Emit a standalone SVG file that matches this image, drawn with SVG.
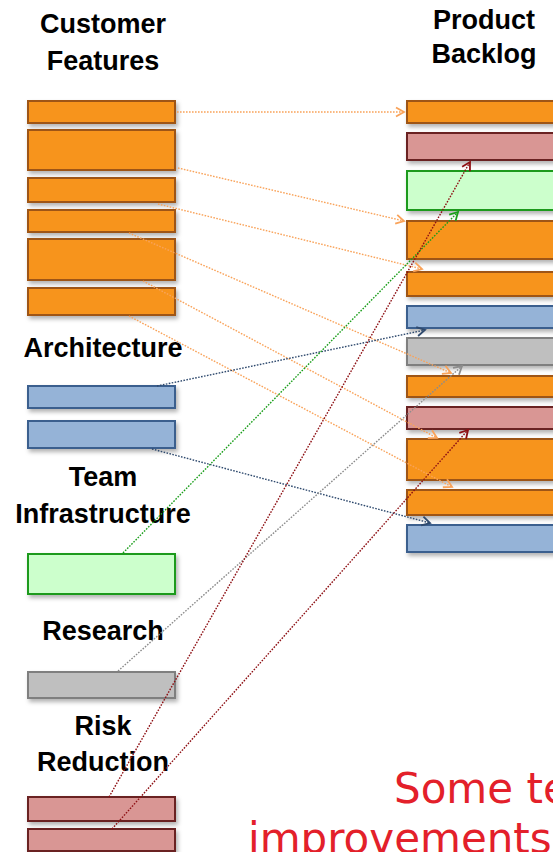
<svg xmlns="http://www.w3.org/2000/svg" width="553" height="852" viewBox="0 0 553 852">
<style>
.lbl{font-family:"Liberation Sans",Arial,sans-serif;font-weight:bold;font-size:27px;fill:#000;text-anchor:middle}
.note{font-family:"DejaVu Sans",Verdana,sans-serif;font-size:42px;fill:#E3202A}
.box{stroke-width:2;filter:url(#sh)}
.or{fill:#F7941E;stroke:#9E5512}
.pk{fill:#D99694;stroke:#6B2222}
.gr{fill:#CCFFCC;stroke:#1E9A1E}
.bl{fill:#95B3D7;stroke:#3B5E8E}
.gy{fill:#BFBFBF;stroke:#7F7F7F}
.c{fill:none;stroke-width:1.4;stroke-dasharray:1.6 1.4}
.co{stroke:#F9A35A;marker-end:url(#mo)}
.cb{stroke:#2F4A6E;marker-end:url(#mb)}
.cg{stroke:#1A9E1A;marker-end:url(#mg)}
.cy{stroke:#8C8C8C;marker-end:url(#my)}
.cr{stroke:#8E1014;marker-end:url(#mr)}
</style>
<defs>
<filter id="sh" x="-10%" y="-30%" width="125%" height="180%">
<feDropShadow dx="2" dy="3" stdDeviation="2" flood-color="#000" flood-opacity="0.3"/>
</filter>
<marker id="mo" markerUnits="userSpaceOnUse" markerWidth="12" markerHeight="12" refX="0" refY="0" orient="auto" overflow="visible"><path d="M-8,-4.5 L0,0 L-8,4.5" fill="none" stroke="#F9A35A" stroke-width="1.8"/></marker>
<marker id="mb" markerUnits="userSpaceOnUse" markerWidth="12" markerHeight="12" refX="0" refY="0" orient="auto" overflow="visible"><path d="M-8,-4.5 L0,0 L-8,4.5" fill="none" stroke="#2F4A6E" stroke-width="1.8"/></marker>
<marker id="mg" markerUnits="userSpaceOnUse" markerWidth="12" markerHeight="12" refX="0" refY="0" orient="auto" overflow="visible"><path d="M-8,-4.5 L0,0 L-8,4.5" fill="none" stroke="#1A9E1A" stroke-width="1.8"/></marker>
<marker id="my" markerUnits="userSpaceOnUse" markerWidth="12" markerHeight="12" refX="0" refY="0" orient="auto" overflow="visible"><path d="M-8,-4.5 L0,0 L-8,4.5" fill="none" stroke="#8C8C8C" stroke-width="1.8"/></marker>
<marker id="mr" markerUnits="userSpaceOnUse" markerWidth="12" markerHeight="12" refX="0" refY="0" orient="auto" overflow="visible"><path d="M-8,-4.5 L0,0 L-8,4.5" fill="none" stroke="#8E1014" stroke-width="1.8"/></marker>
</defs>
<rect width="553" height="852" fill="#fff"/>

<g id="headers">
<text class="lbl" x="103" y="33">Customer</text>
<text class="lbl" x="103" y="70">Features</text>
<text class="lbl" x="484" y="29">Product</text>
<text class="lbl" x="484" y="63">Backlog</text>
<text class="lbl" x="103" y="357">Architecture</text>
<text class="lbl" x="103" y="486">Team</text>
<text class="lbl" x="103" y="523">Infrastructure</text>
<text class="lbl" x="103" y="640">Research</text>
<text class="lbl" x="103" y="735">Risk</text>
<text class="lbl" x="103" y="771">Reduction</text>
</g>

<g id="cf1"><rect class="box or" x="28" y="101" width="147" height="22"/></g>
<g id="cf2"><rect class="box or" x="28" y="130" width="147" height="40"/></g>
<g id="cf3"><rect class="box or" x="28" y="178" width="147" height="24"/></g>
<g id="cf4"><rect class="box or" x="28" y="210" width="147" height="22"/></g>
<g id="cf5"><rect class="box or" x="28" y="239" width="147" height="41"/></g>
<g id="cf6"><rect class="box or" x="28" y="288" width="147" height="27"/></g>
<g id="arch1"><rect class="box bl" x="28" y="386" width="147" height="22"/></g>
<g id="arch2"><rect class="box bl" x="28" y="421" width="147" height="27"/></g>
<g id="team1"><rect class="box gr" x="28" y="554" width="147" height="40"/></g>
<g id="res1"><rect class="box gy" x="28" y="672" width="147" height="26"/></g>
<g id="risk1"><rect class="box pk" x="28" y="797" width="147" height="24"/></g>
<g id="risk2"><rect class="box pk" x="28" y="829" width="147" height="22"/></g>

<g id="pb1"><rect class="box or" x="407" y="101" width="150" height="22"/></g>
<g id="pb2"><rect class="box pk" x="407" y="133" width="150" height="27"/></g>
<g id="pb3"><rect class="box gr" x="407" y="171" width="150" height="39"/></g>
<g id="pb4"><rect class="box or" x="407" y="221" width="150" height="38"/></g>
<g id="pb5"><rect class="box or" x="407" y="272" width="150" height="24"/></g>
<g id="pb6"><rect class="box bl" x="407" y="306" width="150" height="22"/></g>
<g id="pb7"><rect class="box gy" x="407" y="338" width="150" height="27"/></g>
<g id="pb8"><rect class="box or" x="407" y="376" width="150" height="21"/></g>
<g id="pb9"><rect class="box pk" x="407" y="407" width="150" height="22"/></g>
<g id="pb10"><rect class="box or" x="407" y="439" width="150" height="41"/></g>
<g id="pb11"><rect class="box or" x="407" y="490" width="150" height="25"/></g>
<g id="pb12"><rect class="box bl" x="407" y="525" width="150" height="27"/></g>

<g id="connectors">
<line class="c co" x1="177" y1="112" x2="404" y2="112"/>
<line class="c co" x1="178" y1="168" x2="404" y2="221"/>
<line class="c co" x1="158" y1="204" x2="422" y2="269"/>
<line class="c co" x1="129" y1="233" x2="451" y2="373"/>
<line class="c co" x1="143" y1="281" x2="437" y2="438"/>
<line class="c co" x1="129" y1="316" x2="452" y2="487"/>
<line class="c cb" x1="157" y1="386" x2="425" y2="330"/>
<line class="c cb" x1="152" y1="449" x2="430" y2="523"/>
<line class="c cg" x1="123" y1="553" x2="458" y2="212"/>
<line class="c cy" x1="118" y1="671" x2="462" y2="366"/>
<line class="c cr" x1="109" y1="797" x2="470" y2="162"/>
<line class="c cr" x1="112" y1="829" x2="468" y2="430"/>
</g>

<g id="note">
<text class="note" x="394" y="803">Some te</text>
<text class="note" x="248" y="853">improvements</text>
</g>
</svg>
